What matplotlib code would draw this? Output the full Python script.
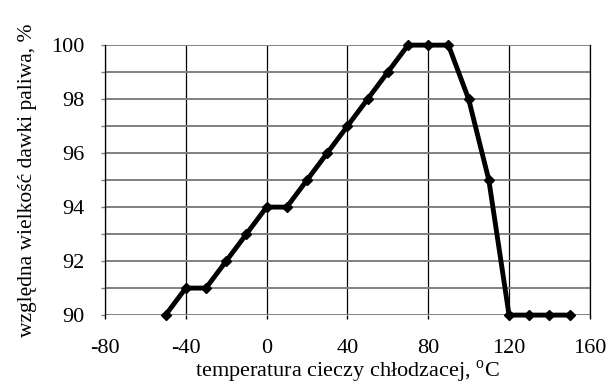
import matplotlib
matplotlib.use("Agg")
import matplotlib.pyplot as plt
from matplotlib.ticker import MultipleLocator

plt.rcParams['font.family'] = ['Liberation Serif', 'DejaVu Serif']
plt.rcParams['mathtext.fontset'] = 'custom'
plt.rcParams['mathtext.rm'] = 'Liberation Serif'
plt.rcParams['axes.unicode_minus'] = False

temperature = [-50, -40, -30, -20, -10, 0, 10, 20, 30, 40, 50, 60, 70, 80, 90,
               100, 110, 120, 130, 140, 150]
dose = [90, 91, 91, 92, 93, 94, 94, 95, 96, 97, 98, 99, 100, 100, 100,
        98, 95, 90, 90, 90, 90]

fig = plt.figure(figsize=(6.1, 3.89), dpi=100)
ax = fig.add_axes([0.172, 0.190, 0.795, 0.694])

ax.set_xlim(-80, 160)
ax.set_ylim(90, 100)
ax.xaxis.set_major_locator(MultipleLocator(40))
ax.yaxis.set_major_locator(MultipleLocator(2))
ax.yaxis.set_minor_locator(MultipleLocator(1))

ax.grid(axis='x', which='major', color='black', linewidth=0.9)
ax.grid(axis='y', which='both', color='#808080', linewidth=1.4)
ax.set_axisbelow(True)

for side in ['top', 'bottom']:
    ax.spines[side].set_visible(False)
for side in ['left', 'right']:
    ax.spines[side].set_linewidth(0.9)
    ax.spines[side].set_color('black')

ax.tick_params(axis='both', which='both', direction='out', length=3,
               width=1.0, labelsize=16)
ax.tick_params(axis='y', which='both', color='#808080', pad=12)
ax.tick_params(axis='x', color='black', pad=14)

ax.plot(temperature, dose, color='black', linewidth=3.5, marker='D',
        markersize=5.5, clip_on=False, zorder=5)

ax.set_xlabel(r"temperatura cieczy chłodzacej, $^{\rm o}$C", fontsize=16, labelpad=1)
ax.set_ylabel("względna wielkość dawki paliwa, %", fontsize=15.5, labelpad=10)

fig.savefig("out.png", dpi=100)
